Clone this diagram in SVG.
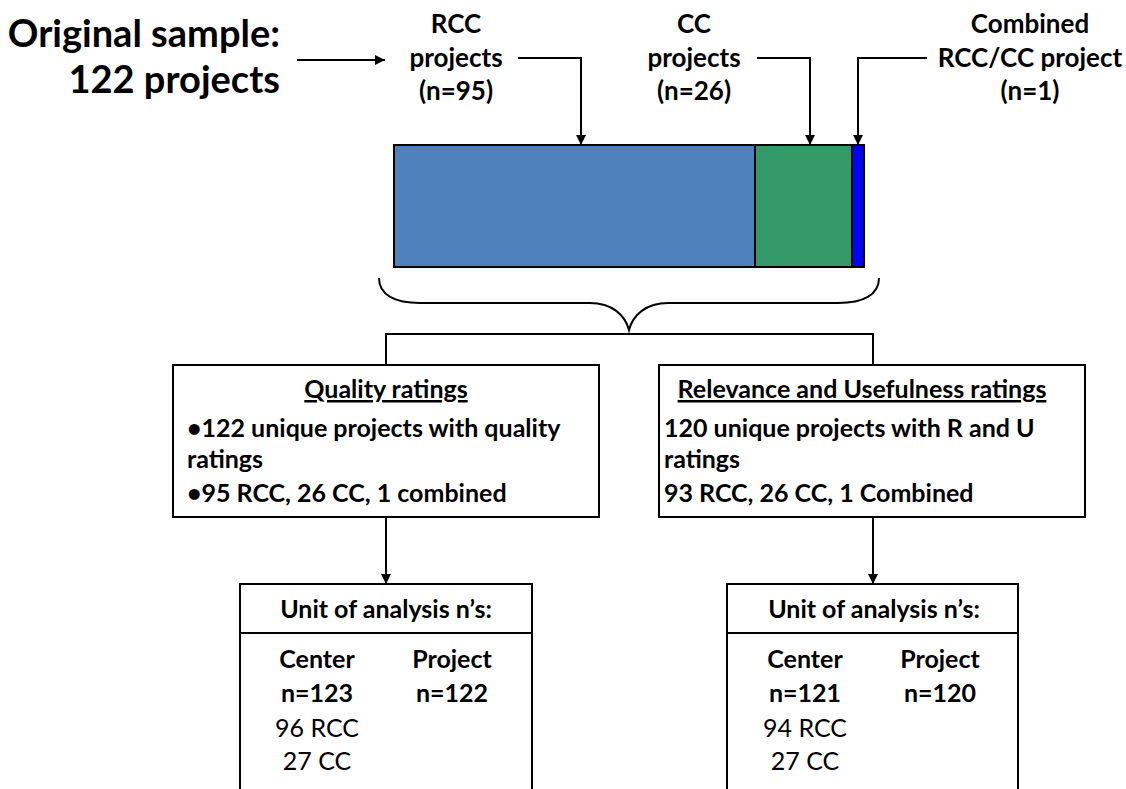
<svg xmlns="http://www.w3.org/2000/svg" width="1126" height="789" viewBox="0 0 1126 789">
<defs>
<marker id="ah" viewBox="0 0 10 10" refX="10" refY="5" markerWidth="10" markerHeight="10" markerUnits="userSpaceOnUse" orient="auto">
<path d="M0,0 L10,5 L0,10 Z" fill="#000"/>
</marker>
<style>
text{font-family:Lato,"Open Sans",sans-serif;fill:#000}
.b{font-weight:bold}
.t{font-size:38px;font-weight:bold}
.l{font-size:26px;font-weight:bold;text-anchor:middle}
.bx{font-size:25px;font-weight:bold}
.r{font-size:25px}
.m{text-anchor:middle}
.u{text-decoration:underline}
.c{fill:none;stroke:#000;stroke-width:2}
.box{fill:#fff;stroke:#000;stroke-width:2}
.bar{stroke:#000;stroke-width:2}
</style>
</defs>
<g id="title">
<text class="t" x="280" y="47" text-anchor="end">Original sample:</text>
<text class="t" x="280" y="93" text-anchor="end">122 projects</text>
</g>
<g id="rcc-label">
<text class="l" x="456" y="33">RCC</text>
<text class="l" x="456" y="67">projects</text>
<text class="l" x="456" y="100">(n=95)</text>
</g>
<g id="cc-label">
<text class="l" x="694" y="33">CC</text>
<text class="l" x="694" y="67">projects</text>
<text class="l" x="694" y="100">(n=26)</text>
</g>
<g id="combined-label">
<text class="l" x="1030" y="33">Combined</text>
<text class="l" x="1030" y="67">RCC/CC project</text>
<text class="l" x="1030" y="100">(n=1)</text>
</g>
<g id="bar">
<rect class="bar" x="394" y="145" width="361" height="122" fill="#4F81BD"/>
<rect class="bar" x="755" y="145" width="97" height="122" fill="#339966"/>
<rect class="bar" x="852" y="145" width="12" height="122" fill="#0000FF"/>
</g>
<g id="brace">
<path class="c" d="M379,278 C379,295 395,303 420,303 L590,303 C612,303 625,315 629,330 C633,315 646,303 668,303 L838,303 C863,303 879,295 879,278"/>
</g>
<g id="connectors">
<line class="c" x1="297" y1="60" x2="385" y2="60" marker-end="url(#ah)"/>
<polyline class="c" points="518,58 581,58 581,145" marker-end="url(#ah)"/>
<polyline class="c" points="757,58 810,58 810,145" marker-end="url(#ah)"/>
<polyline class="c" points="927,58 858,58 858,145" marker-end="url(#ah)"/>
<polyline class="c" points="386,365 386,334 873,334 873,365"/>
<line class="c" x1="386" y1="517" x2="386" y2="584" marker-end="url(#ah)"/>
<line class="c" x1="873" y1="517" x2="873" y2="584" marker-end="url(#ah)"/>
</g>
<g id="quality">
<rect class="box" x="173" y="365" width="426" height="152"/>
<text class="bx m u" x="386" y="398">Quality ratings</text>
<text class="bx" x="187" y="437">•122 unique projects with quality</text>
<text class="bx" x="187" y="468">ratings</text>
<text class="bx" x="187" y="502">•95 RCC, 26 CC, 1 combined</text>
</g>
<g id="relevance">
<rect class="box" x="659" y="365" width="426" height="152"/>
<text class="bx m u" x="862" y="398">Relevance and Usefulness ratings</text>
<text class="bx" x="664" y="437">120 unique projects with R and U</text>
<text class="bx" x="664" y="468">ratings</text>
<text class="bx" x="664" y="502">93 RCC, 26 CC, 1 Combined</text>
</g>
<g id="unit-quality">
<path class="box" d="M240,790 L240,584 L532,584 L532,790"/>
<line class="c" x1="240" y1="633" x2="532" y2="633"/>
<text class="bx m" x="386" y="618">Unit of analysis n’s:</text>
<text class="bx m" x="317" y="668">Center</text>
<text class="bx m" x="317" y="702">n=123</text>
<text class="r m" x="317" y="737">96 RCC</text>
<text class="r m" x="317" y="770">27 CC</text>
<text class="bx m" x="452" y="668">Project</text>
<text class="bx m" x="452" y="702">n=122</text>
</g>
<g id="unit-relevance">
<path class="box" d="M727,790 L727,584 L1018,584 L1018,790"/>
<line class="c" x1="727" y1="633" x2="1018" y2="633"/>
<text class="bx m" x="874" y="618">Unit of analysis n’s:</text>
<text class="bx m" x="805" y="668">Center</text>
<text class="bx m" x="805" y="702">n=121</text>
<text class="r m" x="805" y="737">94 RCC</text>
<text class="r m" x="805" y="770">27 CC</text>
<text class="bx m" x="940" y="668">Project</text>
<text class="bx m" x="940" y="702">n=120</text>
</g>
</svg>
